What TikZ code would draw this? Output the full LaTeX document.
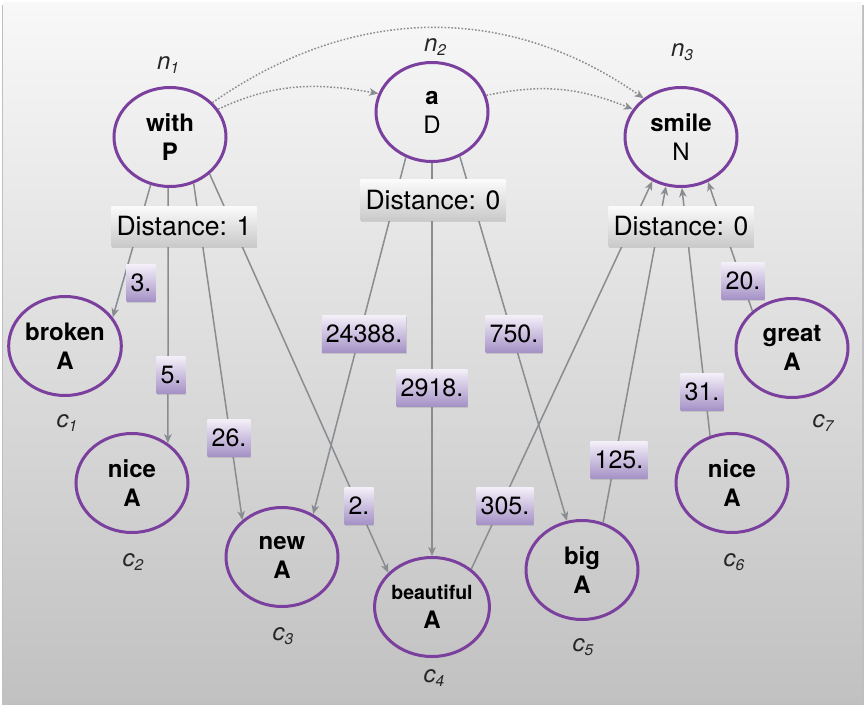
\documentclass[tikz,border=0pt]{standalone}
\usepackage{fontspec}
\setmainfont{TeX Gyre Heros}
\usetikzlibrary{shapes.geometric,arrows.meta,shadows}
\definecolor{ringc}{HTML}{7B3F9E}
\definecolor{edgec}{HTML}{898C90}
\definecolor{labtop}{HTML}{F3EFF8}
\definecolor{labbot}{HTML}{A591C6}
\definecolor{bgtop}{HTML}{F8F8F8}
\definecolor{bgbot}{HTML}{C1C1C1}
\definecolor{dtop}{HTML}{FBFBFB}
\definecolor{dbot}{HTML}{CACACA}
\tikzset{
  word/.style={ellipse, draw=ringc, line width=3pt, minimum width=112pt, minimum height=99pt,
    inner sep=0pt, align=center, font=\fontsize{24}{29}\selectfont\bfseries},
  conn/.style={draw=edgec, line width=1.5pt, -{Stealth[length=9pt,width=7.5pt,inset=2.5pt]}},
  dotc/.style={conn, dash pattern=on 1.6pt off 1.8pt},
  wlab/.style={top color=labtop, bottom color=labbot, inner xsep=4pt, inner ysep=0pt,
    minimum height=37pt, font=\fontsize{25}{30}\selectfont,
    drop shadow={opacity=0.25, shadow xshift=0.5pt, shadow yshift=-1.5pt}},
  dbox/.style={top color=dtop, bottom color=dbot, inner xsep=5pt, inner ysep=0pt,
    minimum height=40pt, font=\fontsize{26.5}{30}\selectfont,
    drop shadow={opacity=0.25, shadow xshift=0.5pt, shadow yshift=-1.5pt}},
  tag/.style={inner sep=0pt, text=black!85, font=\fontsize{24}{28}\selectfont\itshape}
}
\newcommand{\tagtext}[2]{#1{\fontsize{15.5}{15}\selectfont\raisebox{-4pt}{#2}}}
\begin{document}
\begin{tikzpicture}[x=1pt,y=1pt]
\useasboundingbox (0,0) rectangle (865,-706);
% frame
\fill[black!25] (2,-5) rectangle (864,-705);
\shade[top color=bgtop, bottom color=bgbot] (3,-3) rectangle (862,-702);

% word nodes
\node[word] (with) at (170,-137) {with\\P};
\node[word] (a) at (432,-112) {a\\\mdseries D};
\node[word] (smile) at (681,-137) {smile\\\mdseries N};
\node[word] (broken) at (65,-346) {broken\\A};
\node[word] (nicea) at (132,-483) {nice\\A};
\node[word] (new) at (282,-557) {new\\A};
\node[word] (beaut) at (432,-607) {{\fontsize{19.5}{24}\selectfont beautiful}\\A};
\node[word] (big) at (582,-570) {big\\A};
\node[word] (niceb) at (732,-483) {nice\\A};
\node[word] (great) at (792,-348) {great\\A};

% tags
\node[tag] (n1) at (168,-65) {\tagtext{n}{1}};
\node[tag] (n2) at (435,-47) {\tagtext{n}{2}};
\node[tag] (n3) at (682,-52) {\tagtext{n}{3}};
\node[tag] (c1) at (67,-423) {\tagtext{c}{1}};
\node[tag] (c2) at (133,-562) {\tagtext{c}{2}};
\node[tag] (c3) at (283,-636) {\tagtext{c}{3}};
\node[tag] (c4) at (434,-678) {\tagtext{c}{4}};
\node[tag] (c5) at (583,-647) {\tagtext{c}{5}};
\node[tag] (c6) at (734,-562) {\tagtext{c}{6}};
\node[tag] (c7) at (823,-423) {\tagtext{c}{7}};

% dotted arcs
\draw[dotc] (with.30) to[out=25,in=170] (a.161);
\draw[dotc] (with.39) to[out=35,in=145] (smile.134);
\draw[dotc] (a.17) to[out=12,in=158] (smile.150);

% connectors
\draw[conn] (with.248) -- (broken.31);
\draw[conn] (with.268) -- (nicea.48);
\draw[conn] (with.297) -- (new.137);
\draw[conn] (with.317) -- (beaut.142);
\draw[conn] (a.240) -- (new.54);
\draw[conn] (a.270) -- (beaut.90);
\draw[conn] (a.302) -- (big.107);
\draw[conn] (beaut.44) -- (smile.237);
\draw[conn] (big.66) -- (smile.253);
\draw[conn] (niceb.115) -- (smile.271);
\draw[conn] (great.137) -- (smile.301);

% distance boxes
\node[dbox] (d1) at (184,-226) {Distance: 1};
\node[dbox] (d2) at (433,-200) {Distance: 0};
\node[dbox] (d3) at (681,-226) {Distance: 0};

% weight labels
\node[wlab] (w3) at (141,-283) {3.};
\node[wlab] (w5) at (171,-375) {5.};
\node[wlab] (w26) at (229,-438) {26.};
\node[wlab] (w2) at (359,-506) {2.};
\node[wlab] (w24388) at (364,-334) {24388.};
\node[wlab] (w2918) at (432,-388) {2918.};
\node[wlab] (w750) at (514,-334) {750.};
\node[wlab] (w305) at (505,-506) {305.};
\node[wlab] (w125) at (619,-460) {125.};
\node[wlab] (w31) at (702,-392) {31.};
\node[wlab] (w20) at (743,-281) {20.};
\end{tikzpicture}
\end{document}
